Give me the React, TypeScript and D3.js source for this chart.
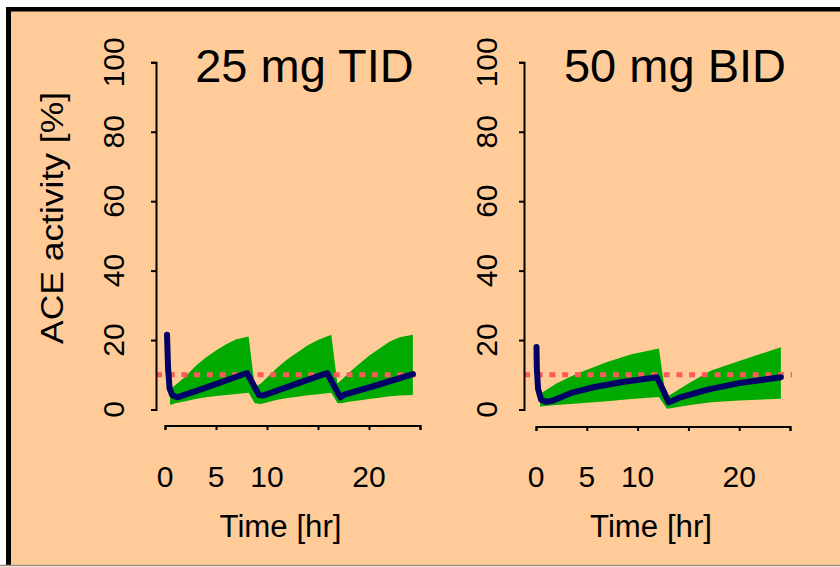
import * as d3 from "d3";
import { useEffect, useRef } from "react";

const width = 840;
const height = 567;

// 25 mg TID (every 8 hr)
const tidBandTime = [0.5, 1, 2, 3, 4, 5, 6, 7, 8.2, 8.8, 9.4, 11, 12, 13, 14, 15, 16.3, 16.9, 17.3, 18, 19, 20, 21, 22, 23, 24.3];
const tidUpper = [6, 7, 9.5, 12.5, 15, 17, 18.8, 20.2, 21, 6.5, 7.5, 12, 14.5, 16.5, 18.5, 20, 21.5, 7.5, 8.5, 10.5, 13, 15.5, 17.5, 19.5, 20.8, 21.5];
const tidLower = [1.3, 1.8, 2.4, 3, 3.5, 3.9, 4.2, 4.5, 4.8, 1.8, 1.6, 2.8, 3.3, 3.7, 4.1, 4.4, 4.8, 1.9, 1.8, 2.2, 2.6, 3.0, 3.4, 3.8, 4.0, 4.2];
const tidMedTime = [0.2, 0.3, 0.45, 0.7, 1.2, 4, 8.05, 8.6, 9.2, 9.6, 12.5, 15.9, 16.5, 17.2, 17.6, 21, 24.3];
const tidMedian = [21.5, 12, 6, 4.2, 3.5, 6.3, 10.5, 7.5, 4.2, 4.0, 7.0, 10.5, 7.2, 3.5, 4.3, 7.2, 10.2];

// 50 mg BID (every 12 hr)
const bidBandTime = [0.4, 2, 4, 7, 9.4, 12.1, 12.9, 13.1, 15, 17.25, 20, 24.1];
const bidUpper = [4.5, 7.5, 10.3, 13.7, 15.9, 17.6, 1.0, 4, 7.5, 11.2, 14, 17.9];
const bidLower = [0.9, 1.3, 1.7, 2.4, 3, 3.6, 0.2, 0.3, 1.2, 2.1, 2.6, 3.1];
const bidMedTime = [0.05, 0.08, 0.2, 0.5, 1.0, 1.7, 3.5, 5.65, 8.5, 11.9, 12.5, 13.05, 13.5, 14.2, 17, 20, 24.1];
const bidMedian = [18, 12, 6, 2.8, 2.2, 2.6, 4.8, 6.4, 7.9, 9.3, 5.7, 2.1, 2.6, 3.5, 5.8, 7.6, 9.3];

const yTicks = [0, 20, 40, 60, 80, 100];
const xTicks = [0, 5, 10, 15, 20, 25];
const xTickLabels = [0, 5, 10, 20];
const target = 10;

const panels = [
  { title: "25 mg TID", bandTime: tidBandTime, upper: tidUpper, lower: tidLower, medTime: tidMedTime, median: tidMedian, x0: 165, x1: 420, yAxisX: 156, labOff: 32, xAxisY: 425.5 },
  { title: "50 mg BID", bandTime: bidBandTime, upper: bidUpper, lower: bidLower, medTime: bidMedTime, median: bidMedian, x0: 536, x1: 790, yAxisX: 524, labOff: 27, xAxisY: 426.5 },
];

const font = "'Liberation Sans', Arial, sans-serif";

const App = () => {
  const svgRef = useRef<SVGSVGElement>(null);

  useEffect(() => {
    const svg = d3.select(svgRef.current);
    svg.selectAll("*").remove();

    // background + frame
    svg.append("rect").attr("width", width).attr("height", height).attr("fill", "#ffffff");
    svg.append("rect").attr("x", 6).attr("y", 7).attr("width", width).attr("height", 558).attr("fill", "#000000");
    svg.append("rect").attr("x", 11).attr("y", 11.5).attr("width", width).attr("height", 553.5).attr("fill", "#FFCC99");
    svg.append("line").attr("x1", 0).attr("x2", width).attr("y1", 565.5).attr("y2", 565.5).attr("stroke", "#9c8b7a").attr("stroke-width", 1.5);

    const yScale = d3.scaleLinear().domain([0, 100]).range([409.5, 62.3]);

    // y axis title
    svg
      .append("text")
      .attr("transform", `translate(63, 218) rotate(-90)`)
      .attr("text-anchor", "middle")
      .attr("font-family", font)
      .attr("font-size", 31)
      .attr("textLength", 252)
      .attr("lengthAdjust", "spacingAndGlyphs")
      .attr("fill", "black")
      .text("ACE activity [%]");

    panels.forEach((p) => {
      const xScale = d3.scaleLinear().domain([0, 25]).range([p.x0, p.x1]);
      const g = svg.append("g");

      // band
      const area = d3
        .area<number>()
        .x((d, i) => xScale(p.bandTime[i]))
        .y0((d, i) => yScale(p.lower[i]))
        .y1((d, i) => yScale(p.upper[i]));
      g.append("path").datum(p.bandTime).attr("d", area).attr("fill", "#00AA00");

      // target line
      g.append("line")
        .attr("x1", p.yAxisX)
        .attr("x2", xScale(25.2))
        .attr("y1", yScale(target))
        .attr("y2", yScale(target))
        .attr("stroke", "#FF5A5A")
        .attr("stroke-width", 5)
        .attr("stroke-dasharray", "6 6.7");

      // median
      const line = d3
        .line<number>()
        .x((d, i) => xScale(p.medTime[i]))
        .y((d) => yScale(d));
      g.append("path")
        .datum(p.median)
        .attr("d", line)
        .attr("fill", "none")
        .attr("stroke", "#000066")
        .attr("stroke-width", 6)
        .attr("stroke-linejoin", "round")
        .attr("stroke-linecap", "round");

      // y axis
      const ya = g
        .append("g")
        .attr("transform", `translate(${p.yAxisX},0)`)
        .call(d3.axisLeft(yScale).tickValues(yTicks).tickSize(5).tickFormat(() => ""));
      ya.select(".domain").attr("stroke", "black").attr("stroke-width", 2);
      ya.selectAll(".tick line").attr("stroke", "black").attr("stroke-width", 2);

      g.selectAll("text.ylab")
        .data(yTicks)
        .enter()
        .append("text")
        .attr("class", "ylab")
        .attr("transform", (d) => `translate(${p.yAxisX - p.labOff}, ${yScale(d)}) rotate(-90)`)
        .attr("text-anchor", "middle")
        .attr("font-family", font)
        .attr("font-size", 30)
        .attr("fill", "black")
        .text((d) => d);

      // x axis
      const xa = g
        .append("g")
        .attr("transform", `translate(0, ${p.xAxisY})`)
        .call(d3.axisBottom(xScale).tickValues(xTicks).tickSize(4.5).tickFormat(() => ""));
      xa.select(".domain").attr("stroke", "black").attr("stroke-width", 2);
      xa.selectAll(".tick line").attr("stroke", "black").attr("stroke-width", 2);

      g.selectAll("text.xlab")
        .data(xTickLabels)
        .enter()
        .append("text")
        .attr("class", "xlab")
        .attr("x", (d) => xScale(d))
        .attr("y", 487)
        .attr("text-anchor", "middle")
        .attr("font-family", font)
        .attr("font-size", 30)
        .attr("fill", "black")
        .text((d) => d);

      g.append("text")
        .attr("x", (p.x0 + p.x1) / 2 - 12)
        .attr("y", 537)
        .attr("text-anchor", "middle")
        .attr("font-family", font)
        .attr("font-size", 31)
        .attr("textLength", 122)
        .attr("lengthAdjust", "spacingAndGlyphs")
        .attr("fill", "black")
        .text("Time [hr]");

      // title
      g.append("text")
        .attr("x", (p.x0 + p.x1) / 2 + 12)
        .attr("y", 82)
        .attr("text-anchor", "middle")
        .attr("font-family", font)
        .attr("font-size", 47)
        .attr("fill", "black")
        .text(p.title);
    });
  }, []);

  return (
    <div style={{ position: "absolute", left: 0, top: 0 }}>
      <svg ref={svgRef} width={width} height={height} style={{ display: "block" }}></svg>
    </div>
  );
};

export default App;
